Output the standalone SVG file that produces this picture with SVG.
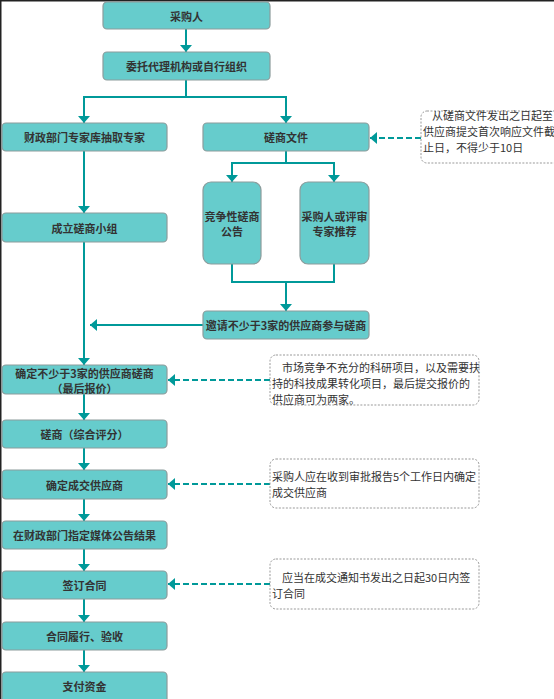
<svg xmlns="http://www.w3.org/2000/svg" width="554" height="699" viewBox="0 0 554 699">
<style>
.box{fill:#66CCCC;stroke:#8C9C9C;stroke-width:1.2}
.t{font-family:"Noto Sans CJK SC","Noto Sans",sans-serif;font-size:11px;font-weight:bold;fill:#333333;text-anchor:middle;dominant-baseline:central}
.note{fill:#FFFFFF;stroke:#999999;stroke-width:1;stroke-dasharray:2,1.5}
.nt{font-family:"Noto Sans CJK SC","Noto Sans",sans-serif;font-size:11px;fill:#333333;dominant-baseline:central}
.c{fill:none;stroke:#009999;stroke-width:2}
.d{fill:none;stroke:#009999;stroke-width:2;stroke-dasharray:6,3}
</style>
<defs>
<marker id="arr" viewBox="0 0 7 12" refX="7" refY="6" markerWidth="7" markerHeight="12" markerUnits="userSpaceOnUse" orient="auto">
<path d="M0,0 L7,6 L0,12 z" fill="#009999"/>
</marker>
</defs>
<rect x="0" y="0" width="554" height="699" fill="#FFFFFF"/>
<line x1="0" y1="0.75" x2="554" y2="0.75" stroke="#222222" stroke-width="1.5"/>
<line x1="0.75" y1="0" x2="0.75" y2="699" stroke="#222222" stroke-width="1.5"/>

<g id="connectors">
<path class="c" d="M186,29 V52" marker-end="url(#arr)"/>
<path class="c" d="M186,80 V97 H84 V123" marker-end="url(#arr)"/>
<path class="c" d="M186,97 H286 V123" marker-end="url(#arr)"/>
<path class="c" d="M84,151 V213" marker-end="url(#arr)"/>
<path class="c" d="M286,151 V163 H232 V182" marker-end="url(#arr)"/>
<path class="c" d="M286,163 H334 V182" marker-end="url(#arr)"/>
<path class="c" d="M232,264 V282 H334 V264"/>
<path class="c" d="M286,282 V311" marker-end="url(#arr)"/>
<path class="c" d="M203,325 H90" marker-end="url(#arr)"/>
<path class="c" d="M84,242 V365" marker-end="url(#arr)"/>
<path class="c" d="M84,394 V420" marker-end="url(#arr)"/>
<path class="c" d="M84,448 V470" marker-end="url(#arr)"/>
<path class="c" d="M84,499 V521" marker-end="url(#arr)"/>
<path class="c" d="M84,549 V571" marker-end="url(#arr)"/>
<path class="c" d="M84,599 V622" marker-end="url(#arr)"/>
<path class="c" d="M84,650 V672" marker-end="url(#arr)"/>
<path class="d" d="M421,138 H370" marker-end="url(#arr)"/>
<path class="d" d="M270,380 H168" marker-end="url(#arr)"/>
<path class="d" d="M270,484 H168" marker-end="url(#arr)"/>
<path class="d" d="M270,584 H168" marker-end="url(#arr)"/>
</g>

<g id="n1"><rect class="box" x="103" y="2" width="167" height="27" rx="4"/><text class="t" x="186.5" y="16">采购人</text></g>
<g id="n2"><rect class="box" x="103" y="52" width="167" height="28" rx="4"/><text class="t" x="186.5" y="66">委托代理机构或自行组织</text></g>
<g id="n3"><rect class="box" x="2" y="123" width="165" height="28" rx="4"/><text class="t" x="84.5" y="137">财政部门专家库抽取专家</text></g>
<g id="n4"><rect class="box" x="203" y="123" width="166" height="28" rx="4"/><text class="t" x="286" y="137">磋商文件</text></g>
<g id="n5"><rect class="box" x="203" y="182" width="58" height="82" rx="8"/><text class="t" x="232" y="216">竞争性磋商</text><text class="t" x="232" y="231">公告</text></g>
<g id="n6"><rect class="box" x="300" y="182" width="69" height="82" rx="8"/><text class="t" x="334.5" y="216">采购人或评审</text><text class="t" x="334.5" y="231">专家推荐</text></g>
<g id="n7"><rect class="box" x="203" y="311" width="166" height="28" rx="4"/><text class="t" x="286" y="325">邀请不少于3家的供应商参与磋商</text></g>
<g id="n8"><rect class="box" x="2" y="213" width="165" height="29" rx="4"/><text class="t" x="84.5" y="227.5">成立磋商小组</text></g>
<g id="n9"><rect class="box" x="2" y="365" width="165" height="29" rx="4"/><text class="t" x="84.5" y="372.5">确定不少于3家的供应商磋商</text><text class="t" x="84.5" y="388">（最后报价）</text></g>
<g id="n10"><rect class="box" x="2" y="420" width="165" height="28" rx="4"/><text class="t" x="84.5" y="434">磋商（综合评分）</text></g>
<g id="n11"><rect class="box" x="2" y="470" width="165" height="29" rx="4"/><text class="t" x="84.5" y="484.5">确定成交供应商</text></g>
<g id="n12"><rect class="box" x="2" y="521" width="165" height="28" rx="4"/><text class="t" x="84.5" y="535">在财政部门指定媒体公告结果</text></g>
<g id="n13"><rect class="box" x="2" y="571" width="165" height="28" rx="4"/><text class="t" x="84.5" y="585">签订合同</text></g>
<g id="n14"><rect class="box" x="2" y="622" width="165" height="28" rx="4"/><text class="t" x="84.5" y="636">合同履行、验收</text></g>
<g id="n15"><rect class="box" x="2" y="672" width="165" height="32" rx="4"/><text class="t" x="84.5" y="686">支付资金</text></g>

<g id="note1"><rect class="note" x="421" y="111" width="140" height="52" rx="6"/>
<text class="nt" x="432" y="115">从磋商文件发出之日起至</text>
<text class="nt" x="423" y="131">供应商提交首次响应文件截</text>
<text class="nt" x="423" y="147">止日，不得少于10日</text></g>
<g id="note2"><rect class="note" x="270" y="355" width="209" height="50" rx="6"/>
<text class="nt" x="282" y="367">市场竞争不充分的科研项目，以及需要扶</text>
<text class="nt" x="272" y="383">持的科技成果转化项目，最后提交报价的</text>
<text class="nt" x="272" y="399">供应商可为两家。</text></g>
<g id="note3"><rect class="note" x="270" y="459" width="209" height="49" rx="6"/>
<text class="nt" x="272" y="476">采购人应在收到审批报告5个工作日内确定</text>
<text class="nt" x="272" y="492">成交供应商</text></g>
<g id="note4"><rect class="note" x="270" y="559" width="209" height="50" rx="6"/>
<text class="nt" x="282" y="577">应当在成交通知书发出之日起30日内签</text>
<text class="nt" x="272" y="593">订合同</text></g>
</svg>
